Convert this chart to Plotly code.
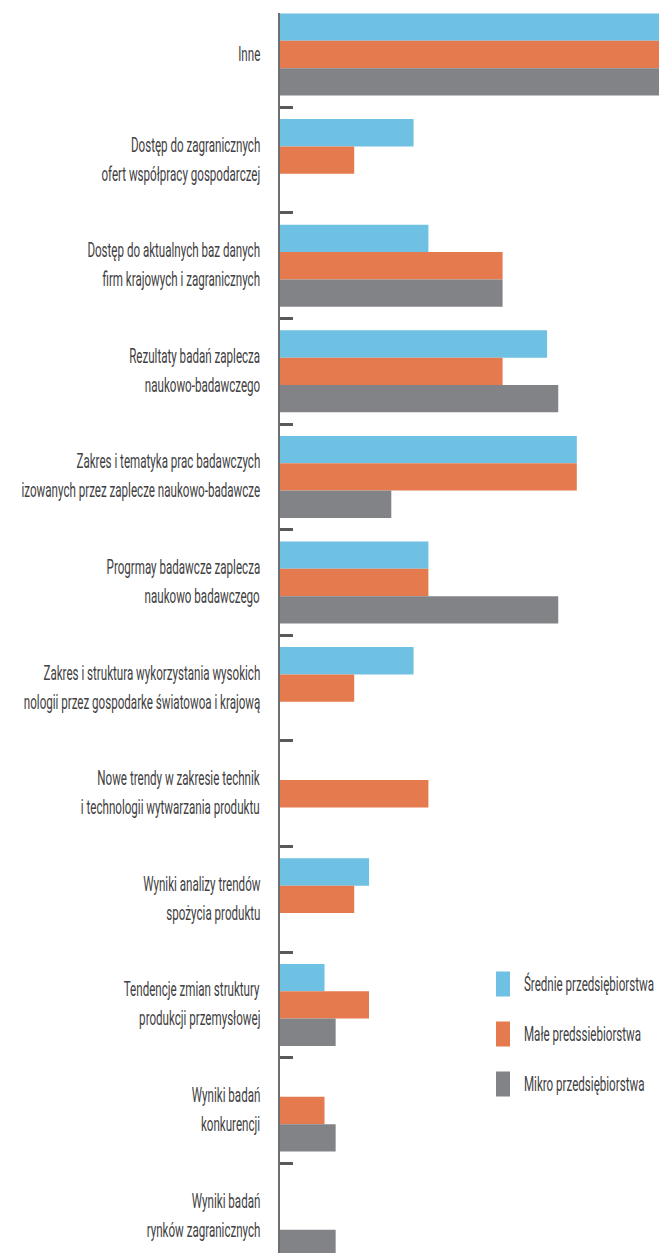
import plotly.graph_objects as go

# Categories (top to bottom); "<br>" marks the line break in each label
categories = [
    "Inne",
    "Dostęp do zagranicznych<br>ofert współpracy gospodarczej",
    "Dostęp do aktualnych baz danych<br>firm krajowych i zagranicznych",
    "Rezultaty badań zaplecza<br>naukowo-badawczego",
    "Zakres i tematyka prac badawczych<br>izowanych przez zaplecze naukowo-badawcze",
    "Progrmay badawcze zaplecza<br>naukowo badawczego",
    "Zakres i struktura wykorzystania wysokich<br>nologii przez gospodarke światowoa i krajową",
    "Nowe trendy w zakresie technik<br>i technologii wytwarzania produktu",
    "Wyniki analizy trendów<br>spożycia produktu",
    "Tendencje zmian struktury<br>produkcji przemysłowej",
    "Wyniki badań<br>konkurencji",
    "Wyniki badań<br>rynków zagranicznych",
]

series_names = ["Średnie przedsiębiorstwa", "Małe predssiebiorstwa", "Mikro przedsiębiorstwa"]

srednie = [60, 18, 20, 36, 40, 20, 18, 0, 12, 6, 0, 0]
male = [60, 10, 30, 30, 40, 20, 10, 20, 10, 12, 6, 0]
mikro = [60, 0, 30, 37.5, 15, 37.5, 0, 0, 0, 7.5, 7.5, 7.5]

colors = ["#6ec1e3", "#e47a4d", "#828387"]
text_color = "#414042"
font_family = "Roboto, Liberation Sans, sans-serif"
font_size = 20

W, H = 659, 1253
M_L, M_T = 280, 13
PLOT_W, PLOT_H = W - M_L, H - M_T

fig = go.Figure()
for name, vals, col in zip(series_names, [srednie, male, mikro], colors):
    fig.add_trace(go.Bar(
        y=categories, x=vals, name=name, orientation="h",
        marker=dict(color=col, line=dict(width=0)),
        hoverinfo="x+name",
    ))

label_font = dict(family=font_family, size=font_size, color=text_color)

# Two-line category labels placed beside the axis
annotations = []
for cat in categories:
    lines = cat.split("<br>")
    n = len(lines)
    for i, line in enumerate(lines):
        annotations.append(dict(
            text=line, xref="paper", x=0, xanchor="right", xshift=-18, align="right",
            yref="y", y=cat, yanchor="middle", yshift=(n - 1) * 14.5 - i * 29 + 1,
            showarrow=False, font=label_font,
        ))


def px_x(px):
    return (px - M_L) / PLOT_W


def px_y(py):
    return (H - py) / PLOT_H


# Legend: tall swatches with labels
shapes = []
legend_rows = [984, 1034, 1084]
for name, col, cy in zip(series_names, colors, legend_rows):
    shapes.append(dict(
        type="rect", xref="paper", yref="paper",
        x0=px_x(496), x1=px_x(510), y0=px_y(cy + 12.5), y1=px_y(cy - 12.5),
        fillcolor=col, line=dict(width=0),
    ))
    annotations.append(dict(
        text=name, xref="paper", x=px_x(522), xanchor="left", align="left",
        yref="paper", y=px_y(cy), yanchor="middle", showarrow=False,
        font=label_font,
    ))

px_per_unit = 7.42
fig.update_layout(
    width=W, height=H,
    margin=dict(l=M_L, r=0, t=M_T, b=0, pad=0),
    paper_bgcolor="white", plot_bgcolor="white",
    barmode="group", bargap=0.223, bargroupgap=0,
    showlegend=False,
    annotations=annotations, shapes=shapes,
    font=dict(family=font_family, color=text_color),
    xaxis=dict(range=[0, PLOT_W / px_per_unit], visible=False, fixedrange=True),
    yaxis=dict(
        type="category", range=[11.349, -0.393],
        showticklabels=False, showgrid=False, zeroline=False,
        showline=True, linecolor="#6d6e71", linewidth=2,
        ticks="inside", tickson="boundaries", ticklen=13, tickwidth=3,
        tickcolor="#58595b",
    ),
)

# Condensed lettering: squeeze annotation text horizontally, keeping its anchored edge fixed
condense_js = """
var gd = document.getElementById('{plot_id}');
function condense() {
  gd.querySelectorAll('text.annotation-text').forEach(function (t) {
    var a = t.getAttribute('text-anchor');
    t.style.transformBox = 'fill-box';
    t.style.transformOrigin = (a === 'end' ? 'right' : a === 'start' ? 'left' : 'center') + ' center';
    t.style.transform = 'scaleX(0.58)';
  });
}
condense();
gd.on('plotly_afterplot', condense);
"""

fig.write_html("out.html", post_script=condense_js)
